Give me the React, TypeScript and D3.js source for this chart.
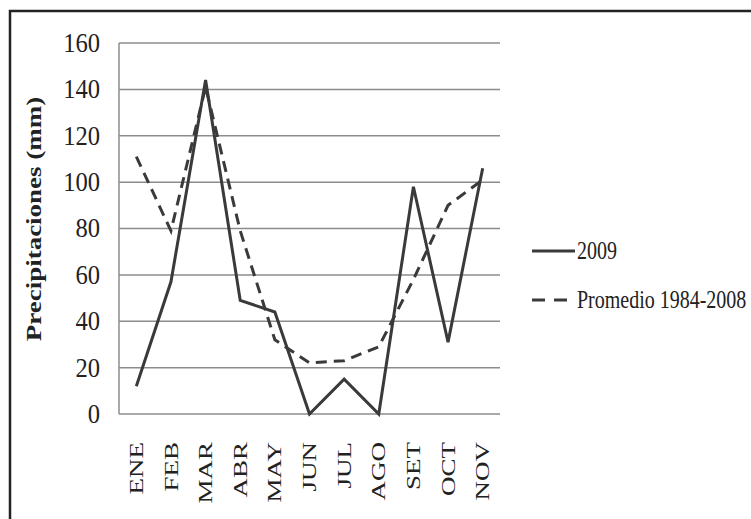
import React from "react";
import * as d3 from "d3";

const months = ["ENE", "FEB", "MAR", "ABR", "MAY", "JUN", "JUL", "AGO", "SET", "OCT", "NOV"];
const values2009 = [12, 57, 144, 49, 44, 0, 15, 0, 98, 31, 106];
const promedio = [111, 79, 141, 79, 32, 22, 23, 29, 58, 90, 101];
const yTicks = [0, 20, 40, 60, 80, 100, 120, 140, 160];
const seriesNames = ["2009", "Promedio 1984-2008"];

const W = 751;
const H = 519;
const plot = { left: 119, right: 500, top: 43, bottom: 414 };
const serif = "'Liberation Serif', 'Times New Roman', serif";
const ink = "#3a3a3a";

export default function App() {
  const x = d3.scaleBand<string>().domain(months).range([plot.left, plot.right]);
  const y = d3.scaleLinear().domain([0, 160]).range([plot.bottom, plot.top]);
  const cx = (m: string) => (x(m) as number) + x.bandwidth() / 2;

  const line = d3
    .line<number>()
    .x((_, i) => cx(months[i]))
    .y((d) => y(d));

  return (
    <svg
      width={W}
      height={H}
      style={{ position: "absolute", left: 0, top: 0, background: "#fff" }}
    >
      <rect x={0} y={0} width={W} height={H} fill="#fff" />
      {/* frame */}
      <rect x={10} y={11} width={W + 20} height={H + 20} fill="none" stroke="#222" strokeWidth={2.5} />

      {/* gridlines */}
      {yTicks.map((t) => (
        <line
          key={t}
          x1={plot.left}
          x2={plot.right}
          y1={y(t)}
          y2={y(t)}
          stroke="#8c8c8c"
          strokeWidth={1.5}
        />
      ))}
      <line x1={plot.left} x2={plot.left} y1={plot.top} y2={plot.bottom} stroke="#8c8c8c" strokeWidth={1.5} />

      {/* y tick labels */}
      {yTicks.map((t) => (
        <text
          key={t}
          transform={`translate(100,${y(t)}) scale(0.91,1)`}
          textAnchor="end"
          dominantBaseline="central"
          fontFamily={serif}
          fontSize={27}
          fill="#222"
        >
          {t}
        </text>
      ))}

      {/* y title */}
      <text
        transform={`translate(34,219) rotate(-90) scale(1,0.75)`}
        textAnchor="middle"
        dominantBaseline="central"
        fontFamily={serif}
        fontWeight="bold"
        fontSize={27}
        fill="#222"
      >
        Precipitaciones (mm)
      </text>

      {/* x labels */}
      {months.map((m) => (
        <text
          key={m}
          transform={`translate(${cx(m)},442) rotate(-90) scale(1,0.72)`}
          textAnchor="end"
          dominantBaseline="central"
          fontFamily={serif}
          fontSize={27}
          fill="#222"
        >
          {m}
        </text>
      ))}

      {/* series */}
      <path d={line(promedio) || ""} fill="none" stroke={ink} strokeWidth={3} strokeDasharray="11,7" />
      <path d={line(values2009) || ""} fill="none" stroke={ink} strokeWidth={3} strokeLinejoin="miter" />

      {/* legend */}
      <line x1={532} x2={575} y1={251} y2={251} stroke={ink} strokeWidth={3} />
      <text
        transform="translate(577,251) scale(0.8,1)"
        dominantBaseline="central"
        fontFamily={serif}
        fontSize={25}
        fill="#222"
      >
        {seriesNames[0]}
      </text>
      <line x1={532} x2={575} y1={300} y2={300} stroke={ink} strokeWidth={3} strokeDasharray="13,9" />
      <text
        transform="translate(577,300) scale(0.8,1)"
        dominantBaseline="central"
        fontFamily={serif}
        fontSize={25}
        fill="#222"
      >
        {seriesNames[1]}
      </text>
    </svg>
  );
}
